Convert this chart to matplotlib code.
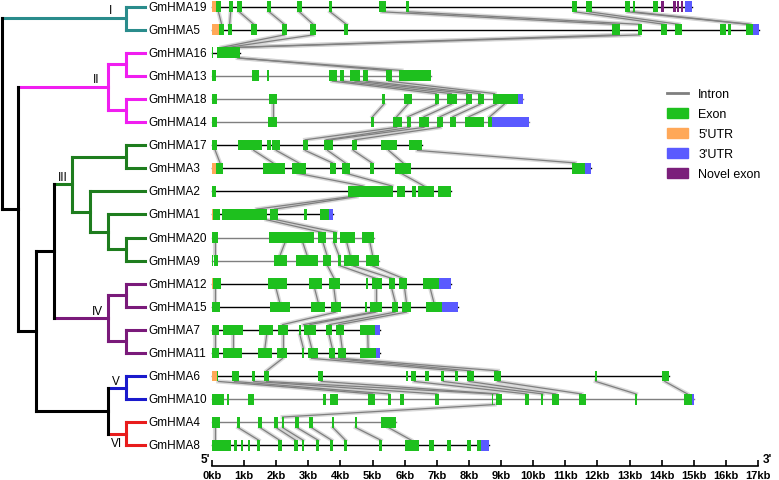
import matplotlib
matplotlib.use("Agg")
import matplotlib.pyplot as plt
from matplotlib.lines import Line2D
from matplotlib.patches import Patch

plt.rcParams["font.family"] = ["Liberation Sans", "DejaVu Sans"]

# ---------------- data ----------------
genes = ["GmHMA19", "GmHMA5", "GmHMA16", "GmHMA13", "GmHMA18", "GmHMA14",
         "GmHMA17", "GmHMA3", "GmHMA2", "GmHMA1", "GmHMA20", "GmHMA9",
         "GmHMA12", "GmHMA15", "GmHMA7", "GmHMA11", "GmHMA6", "GmHMA10",
         "GmHMA4", "GmHMA8"]

# exon coordinates in kb (start, end), one list per gene
exons = [
    [(0.13, 0.28), (0.53, 0.65), (0.78, 0.93), (1.71, 1.84), (2.65, 2.8), (3.64, 3.73), (5.2, 5.42),
     (6.04, 6.14), (11.2, 11.37), (11.65, 11.84), (12.87, 13.02), (13.1, 13.18), (13.74, 13.9)],
    [(0.22, 0.37), (0.5, 0.62), (1.21, 1.4), (2.18, 2.34), (3.05, 3.24), (4.11, 4.24), (12.46, 12.71),
     (13.27, 13.4), (13.99, 14.17), (14.42, 14.64), (15.83, 16.01), (16.07, 16.17), (16.64, 16.85)],
    [(0.0, 0.04), (0.15, 0.88)],
    [(0.0, 0.12), (1.25, 1.46), (1.71, 1.78), (3.64, 3.89), (4.0, 4.11), (4.3, 4.61), (4.7, 4.86),
     (5.42, 5.6), (5.83, 6.82)],
    [(0.0, 0.15), (1.78, 2.03), (5.3, 5.39), (5.98, 6.23), (6.95, 7.07), (7.32, 7.63), (7.91, 8.1),
     (8.29, 8.47), (8.75, 9.53)],
    [(0.0, 0.15), (1.75, 2.03), (4.95, 5.05), (5.64, 5.92), (6.07, 6.2), (6.45, 6.76), (7.0, 7.2),
     (7.41, 7.6), (7.88, 8.47), (8.6, 8.72)],
    [(0.0, 0.16), (0.82, 1.56), (1.71, 1.84), (1.87, 2.12), (2.83, 3.0), (3.49, 3.77), (4.36, 4.52),
     (5.26, 5.76), (6.14, 6.54)],
    [(0.12, 0.34), (1.59, 2.27), (2.49, 2.93), (3.68, 3.86), (4.05, 4.3), (4.92, 5.05), (5.7, 6.2),
     (11.21, 11.62)],
    [(0.0, 0.12), (4.24, 5.64), (5.76, 6.01), (6.23, 6.36), (6.42, 6.92), (7.04, 7.45)],
    [(0.04, 0.25), (0.31, 1.71), (1.81, 2.06), (2.87, 2.96), (3.36, 3.64)],
    [(0.0, 0.02), (0.04, 0.19), (1.78, 3.18), (3.3, 3.55), (3.77, 3.89), (4.0, 4.45), (4.67, 5.05)],
    [(0.0, 0.02), (0.06, 0.19), (1.93, 2.34), (2.62, 3.3), (3.46, 3.71), (3.92, 4.02), (4.11, 4.58),
     (4.8, 5.2)],
    [(0.04, 0.28), (1.74, 2.34), (3.02, 3.43), (3.64, 3.99), (4.8, 4.86), (4.98, 5.3), (5.51, 5.7),
     (5.83, 6.07), (6.57, 7.07)],
    [(0.0, 0.25), (1.81, 2.43), (3.08, 3.52), (3.71, 4.02), (4.77, 4.83), (4.92, 5.3), (5.6, 5.79),
     (5.92, 6.2), (6.67, 7.17)],
    [(0.0, 0.22), (0.34, 0.97), (1.46, 1.9), (2.06, 2.37), (2.71, 2.77), (2.87, 3.24), (3.55, 3.74),
     (3.86, 4.11), (4.61, 5.08)],
    [(0.0, 0.22), (0.34, 0.93), (1.43, 1.87), (2.02, 2.34), (2.8, 2.87), (2.99, 3.3), (3.64, 3.83),
     (3.92, 4.17), (4.61, 5.11)],
    [(0.16, 0.2), (0.62, 0.84), (1.25, 1.34), (1.62, 1.78), (3.3, 3.46), (6.04, 6.1), (6.2, 6.36),
     (6.64, 6.76), (7.13, 7.23), (7.57, 7.66), (7.94, 8.16), (8.78, 9.0), (11.93, 11.99), (14.02, 14.24)],
    [(0.0, 0.37), (0.47, 0.53), (1.12, 1.31), (3.46, 3.55), (3.68, 3.93), (4.86, 5.08), (5.48, 5.58),
     (5.86, 5.98), (6.95, 7.07), (8.72, 8.75), (8.85, 9.03), (9.75, 9.88), (10.25, 10.31), (10.59, 10.81),
     (11.43, 11.65), (13.18, 13.24), (14.7, 14.95)],
    [(0.0, 0.25), (0.78, 0.87), (1.43, 1.56), (1.93, 2.06), (2.18, 2.24), (2.59, 2.71), (3.02, 3.15),
     (3.74, 3.8), (4.45, 4.52), (5.26, 5.73)],
    [(0.0, 0.59), (0.69, 0.78), (0.9, 0.97), (1.12, 1.18), (1.4, 1.5), (2.06, 2.18), (2.55, 2.68),
     (2.8, 2.87), (3.24, 3.33), (3.68, 3.77), (4.11, 4.2), (5.2, 5.3), (6.01, 6.45), (6.76, 6.92),
     (7.32, 7.45), (7.94, 8.07), (8.26, 8.38)],
]

utr5 = {0: (0.0, 0.13), 1: (0.0, 0.22), 7: (0.0, 0.12), 9: (0.0, 0.04), 12: (0.0, 0.04), 16: (0.0, 0.16)}
utr3 = {0: (14.73, 14.95), 1: (16.85, 17.04), 4: (9.53, 9.69), 5: (8.72, 9.88), 7: (11.62, 11.81),
        9: (3.64, 3.77), 12: (7.07, 7.45), 13: (7.17, 7.66), 14: (5.08, 5.23), 15: (5.11, 5.23),
        17: (14.95, 15.02), 19: (8.38, 8.63)}
novel = {0: [(13.99, 14.08), (14.36, 14.45), (14.49, 14.55), (14.6, 14.67)]}

gray_introns = [3, 4, 5, 10, 11, 17, 18]

# homologous exon links: (upper row, kb, lower row, kb)
links = [
    (0, 0.2, 1, 0.3), (0, 0.58, 1, 0.55), (0, 0.85, 1, 1.3), (0, 1.78, 1, 2.25), (0, 2.72, 1, 3.15),
    (0, 3.68, 1, 4.18), (0, 5.3, 1, 12.55), (0, 6.1, 1, 13.3), (0, 11.3, 1, 14.08), (0, 11.75, 1, 14.53),
    (0, 12.95, 1, 16.7), (0, 13.1, 1, 16.75),
    (1, 2.25, 2, 0.3), (1, 3.15, 2, 0.5), (1, 12.55, 2, 0.7), (1, 13.3, 2, 0.8),
    (2, 0.85, 3, 5.45), (2, 0.8, 3, 5.9),
    (3, 3.75, 4, 6.98), (3, 4.05, 4, 7.45), (3, 4.45, 4, 7.95), (3, 4.8, 4, 8.35), (3, 5.5, 4, 8.8),
    (4, 1.9, 5, 1.9), (4, 5.35, 5, 5.0), (4, 6.1, 5, 5.75), (4, 7.0, 5, 6.1), (4, 7.45, 5, 6.6),
    (4, 7.95, 5, 7.1), (4, 8.35, 5, 7.5), (4, 8.85, 5, 8.0), (4, 9.1, 5, 8.65),
    (5, 5.75, 6, 2.9), (5, 6.15, 6, 3.55), (5, 6.6, 6, 3.7), (5, 7.1, 6, 4.45),
    (6, 0.1, 7, 0.25), (6, 1.3, 7, 1.9), (6, 2.0, 7, 2.7), (6, 2.9, 7, 3.75), (6, 3.6, 7, 4.15),
    (6, 4.4, 7, 4.98), (6, 5.5, 7, 5.95), (6, 6.4, 7, 11.3),
    (7, 2.7, 8, 4.7), (7, 4.2, 8, 5.6), (7, 5.9, 8, 6.6),
    (8, 4.3, 9, 1.4), (8, 4.5, 9, 1.95),
    (9, 1.7, 10, 3.4), (9, 2.0, 10, 3.85),
    (10, 0.1, 11, 0.1), (10, 2.27, 11, 2.12), (10, 2.83, 11, 2.96), (10, 3.46, 11, 3.58),
    (10, 3.8, 11, 3.95), (10, 4.2, 11, 4.3), (10, 4.92, 11, 5.0),
    (11, 3.6, 12, 3.8), (11, 4.0, 12, 5.1), (11, 4.4, 12, 5.6), (11, 5.0, 12, 5.95),
    (12, 0.1, 13, 0.1), (12, 2.0, 13, 2.1), (12, 3.2, 13, 3.3), (12, 3.8, 13, 3.85), (12, 5.1, 13, 5.1),
    (12, 5.6, 13, 5.7), (12, 6.0, 13, 6.05), (12, 6.8, 13, 6.9),
    (13, 3.85, 14, 2.2), (13, 5.0, 14, 2.85), (13, 5.1, 14, 3.05), (13, 5.7, 14, 3.65), (13, 6.05, 14, 3.95),
    (14, 0.1, 15, 0.1), (14, 0.65, 15, 0.65), (14, 1.7, 15, 1.65), (14, 2.2, 15, 2.2), (14, 2.74, 15, 2.84),
    (14, 3.0, 15, 3.1), (14, 3.65, 15, 3.74), (14, 4.0, 15, 4.05), (14, 4.85, 15, 4.86),
    (15, 2.2, 16, 1.7), (15, 3.1, 16, 7.6), (15, 3.7, 16, 8.05), (15, 4.0, 16, 8.9),
    (16, 0.2, 17, 5.0), (16, 0.7, 17, 5.5), (16, 1.3, 17, 7.0), (16, 1.7, 17, 8.75), (16, 3.4, 17, 8.9),
    (16, 6.3, 17, 9.8), (16, 7.2, 17, 10.3), (16, 8.0, 17, 10.7), (16, 8.9, 17, 11.5),
    (16, 11.95, 17, 13.2), (16, 14.1, 17, 14.8),
    (17, 8.8, 18, 2.2),
    (18, 0.1, 19, 0.1), (18, 0.82, 19, 1.45), (18, 1.5, 19, 2.1), (18, 2.0, 19, 2.6), (18, 2.2, 19, 2.83),
    (18, 2.65, 19, 3.3), (18, 3.1, 19, 3.72), (18, 3.77, 19, 4.15), (18, 4.48, 19, 5.25), (18, 5.5, 19, 6.2),
]

# tree: (colour, node depth, children); ints are leaf rows
tree = ("black", 2, [
    ("#2a8c8c", 126, [0, 1]),
    ("black", 18, [
        ("#f01ef0", 108, [("#f01ef0", 126, [2, 3]), ("#f01ef0", 126, [4, 5])]),
        ("black", 36, [
            ("black", 54, [
                ("#1e7d1e", 72, [("#1e7d1e", 126, [6, 7]),
                                 ("#1e7d1e", 90, [8, ("#1e7d1e", 108, [9, ("#1e7d1e", 126, [10, 11])])])]),
                ("#7a1a7a", 108, [("#7a1a7a", 126, [12, 13]), ("#7a1a7a", 126, [14, 15])]),
            ]),
            ("black", 108, [("#1a1acc", 126, [16, 17]), ("#e81c1c", 126, [18, 19])]),
        ]),
    ]),
])
clade_names = ["I", "II", "III", "IV", "V", "VI"]

kb_ticks = list(range(18))

# ---------------- colours ----------------
c_exon = "#1ec01e"
c_5utr = "#ffa858"
c_3utr = "#5a5aff"
c_novel = "#7b1f7b"
c_intron = "#7f7f7f"

W, H = 779, 481
fig = plt.figure(figsize=(W / 100, H / 100), dpi=100)
row_lim = (19.89, -0.325)
axis_px = 467

ax_t = fig.add_axes([0, 1 - axis_px / H, 1, axis_px / H])
ax_t.set_xlim(0, W)
ax_t.set_ylim(*row_lim)
ax_t.axis("off")

ax = fig.add_axes([212 / W, 1 - axis_px / H, 546 / W, axis_px / H])
ax.set_xlim(0, 17)
ax.set_ylim(*row_lim)
ax.patch.set_alpha(0)

# ---------------- tree ----------------
leaf_x = 145


def draw(node):
    color, x, children = node
    ys = []
    for ch in children:
        if isinstance(ch, int):
            y = ch
            ax_t.plot([x, leaf_x], [y, y], color=color, lw=2.2, solid_capstyle="projecting")
        else:
            y = draw(ch)
            ax_t.plot([x, ch[1]], [y, y], color=ch[0], lw=2.2, solid_capstyle="projecting")
        ys.append(y)
    ax_t.plot([x, x], [min(ys), max(ys)], color=color, lw=2.2, solid_capstyle="projecting")
    return (min(ys) + max(ys)) / 2


draw(tree)

for i, name in enumerate(genes):
    ax_t.text(148, i, name, ha="left", va="center", fontsize=8.5)

label_pos = [(111, 0.15), (96, 3.15), (63, 7.4), (97, 13.2), (116, 16.2), (117, 18.9)]
for (lx, ly), lab in zip(label_pos, clade_names):
    ax_t.text(lx, ly, lab, ha="center", va="center", fontsize=8.5)

# ---------------- gene structures ----------------
h = 0.46
for ua, ka, lb, kb in links:
    ax.plot([ka, kb], [ua + h / 2, lb - h / 2], color="#d0d0d0", lw=3.0, alpha=0.8, zorder=1,
            clip_on=False)
    ax.plot([ka, kb], [ua + h / 2, lb - h / 2], color=c_intron, lw=0.9, zorder=2, clip_on=False)

for i, ex in enumerate(exons):
    ends = [e for _, e in ex]
    if i in utr3:
        ends.append(utr3[i][1])
    if i in novel:
        ends.append(novel[i][-1][1])
    length = max(ends)
    col = c_intron if i in gray_introns else "black"
    ax.plot([0, length], [i, i], color=col, lw=1.0, zorder=3, clip_on=False)
    ax.barh([i] * len(ex), [e - s for s, e in ex], left=[s for s, _ in ex], height=h,
            color=c_exon, zorder=4, clip_on=False)
    if i in utr5:
        s, e = utr5[i]
        ax.barh(i, e - s, left=s, height=h, color=c_5utr, zorder=4, clip_on=False)
    if i in utr3:
        s, e = utr3[i]
        ax.barh(i, e - s, left=s, height=h, color=c_3utr, zorder=4, clip_on=False)
    if i in novel:
        ax.barh([i] * len(novel[i]), [e - s for s, e in novel[i]], left=[s for s, _ in novel[i]],
                height=h, color=c_novel, zorder=4, clip_on=False)

# ---------------- scale axis ----------------
for sp in ["top", "left", "right"]:
    ax.spines[sp].set_visible(False)
ax.spines["bottom"].set_linewidth(1.2)
ax.set_yticks([])
ax.set_xticks(kb_ticks)
ax.set_xticklabels([f"{k}kb" for k in kb_ticks], fontsize=8, fontweight="bold")
ax.tick_params(axis="x", direction="in", length=4, width=1.2, pad=3)
ax.annotate("5'", xy=(0, 0), xycoords="axes fraction", xytext=(-7, 7), textcoords="offset pixels",
            ha="center", va="center", fontsize=8.5, fontweight="bold")
ax.annotate("3'", xy=(1, 0), xycoords="axes fraction", xytext=(9, 7), textcoords="offset pixels",
            ha="center", va="center", fontsize=8.5, fontweight="bold")

# ---------------- legend ----------------
handles = [Line2D([], [], color=c_intron, lw=2),
           Patch(color=c_exon), Patch(color=c_5utr), Patch(color=c_3utr), Patch(color=c_novel)]
ax.legend(handles, ["Intron", "Exon", "5'UTR", "3'UTR", "Novel exon"],
          loc="upper left", bbox_to_anchor=(667 / W, 1 - 89 / H), bbox_transform=fig.transFigure,
          frameon=False, fontsize=9, handlelength=1.7, handleheight=0.9, labelspacing=0.6,
          handletextpad=0.8, borderaxespad=0, borderpad=0)

fig.savefig("out.png", dpi=100)
